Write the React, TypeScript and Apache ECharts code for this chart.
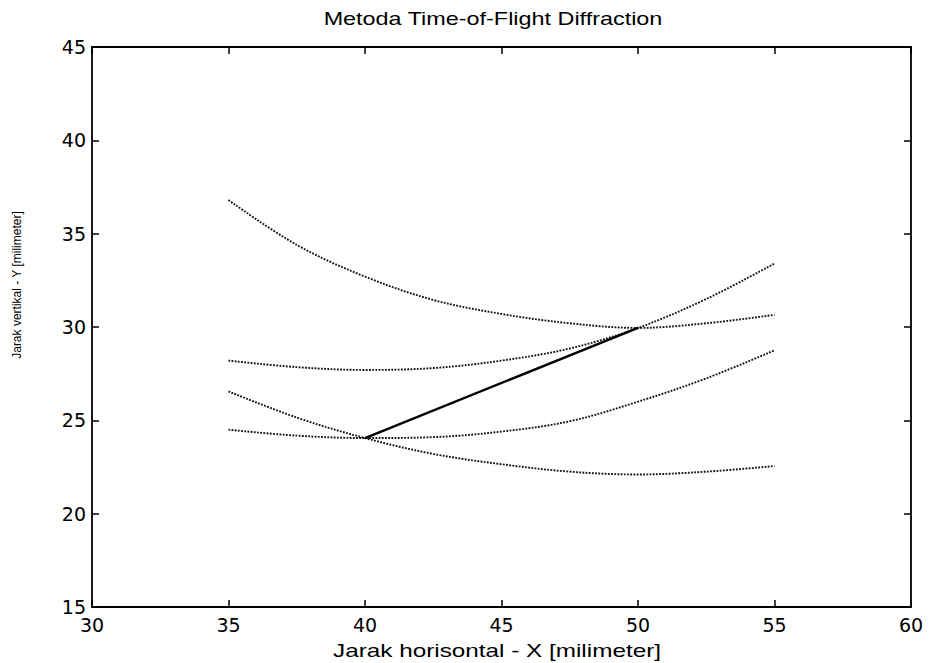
import React, { useEffect, useRef } from "react";
import * as echarts from "echarts";

const xs = [35, 37.5, 40, 42.5, 45, 47.5, 50, 52.5, 55];
const curveA = [36.8, 34.4, 32.7, 31.45, 30.7, 30.2, 29.95, 30.2, 30.65];
const curveB = [28.2, 27.85, 27.7, 27.8, 28.2, 28.85, 29.95, 31.5, 33.4];
const curveC = [26.55, 25.15, 24.05, 23.2, 22.65, 22.25, 22.1, 22.25, 22.55];
const curveD = [24.5, 24.18, 24.05, 24.1, 24.4, 24.95, 26.0, 27.25, 28.75];
const pathX = [40, 50];
const pathY = [24.05, 29.95];

const titleText = "Metoda Time-of-Flight Diffraction";
const xName = "Jarak horisontal - X [milimeter]";
const yName = "Jarak vertikal - Y [milimeter]";

const FONT = "Liberation Sans";
const TICKFONT = "DejaVu Sans";

export default function App() {
  const ref = useRef<HTMLDivElement>(null);
  useEffect(() => {
    document.body.style.margin = "0";
    const chart = echarts.init(ref.current!, null, { renderer: "svg" });
    const pairs = (ys: number[]) => xs.map((x, i) => [x, ys[i]]);
    const dotted = {
      color: "#111",
      width: 1.9,
      type: [1.8, 1.4] as any,
    };
    const curve = (name: string, ys: number[]) => ({
      name,
      type: "line",
      data: pairs(ys),
      smooth: 0.35,
      showSymbol: false,
      xAxisIndex: 0,
      yAxisIndex: 0,
      lineStyle: dotted,
      silent: true,
    });
    const axisLine = { show: true, lineStyle: { color: "#000", width: 1.8 } };
    const tick = { show: true, inside: true, length: 7, lineStyle: { color: "#000", width: 1.5 } };
    chart.setOption({
      animation: false,
      backgroundColor: "#fff",
      grid: { left: 92, right: 20, top: 47, bottom: 56, containLabel: false },
      xAxis: [
        {
          type: "value",
          min: 30,
          max: 60,
          interval: 5,
          position: "bottom",
          axisLine,
          axisTick: tick,
          splitLine: { show: false },
          axisLabel: { color: "#000", fontFamily: TICKFONT, fontSize: 19, margin: 8 },
        },
        {
          type: "value",
          min: 30,
          max: 60,
          interval: 5,
          position: "top",
          axisLine,
          axisTick: tick,
          splitLine: { show: false },
          axisLabel: { show: false },
        },
      ],
      yAxis: [
        {
          type: "value",
          min: 15,
          max: 45,
          interval: 5,
          position: "left",
          axisLine,
          axisTick: tick,
          splitLine: { show: false },
          axisLabel: { color: "#000", fontFamily: TICKFONT, fontSize: 19, margin: 6 },
        },
        {
          type: "value",
          min: 15,
          max: 45,
          interval: 5,
          position: "right",
          axisLine,
          axisTick: tick,
          splitLine: { show: false },
          axisLabel: { show: false },
        },
      ],
      graphic: [
        {
          type: "text",
          x: 493,
          y: 19,
          scaleX: 1.3,
          style: {
            text: titleText,
            fill: "#000",
            font: `18px '${FONT}'`,
            align: "center",
            verticalAlign: "middle",
          },
        },
        {
          type: "text",
          x: 497,
          y: 651,
          scaleX: 1.35,
          style: {
            text: xName,
            fill: "#000",
            font: `18px '${FONT}'`,
            align: "center",
            verticalAlign: "middle",
          },
        },
        {
          type: "text",
          x: 17,
          y: 285,
          rotation: Math.PI / 2,
          style: {
            text: yName,
            fill: "#000",
            font: `12px '${FONT}'`,
            align: "center",
            verticalAlign: "middle",
          },
        },
      ],
      series: [
        curve("A", curveA),
        curve("B", curveB),
        curve("C", curveC),
        curve("D", curveD),
        {
          name: "path",
          type: "line",
          data: pathX.map((x, i) => [x, pathY[i]]),
          showSymbol: false,
          lineStyle: { color: "#000", width: 2.4, type: "solid" },
          silent: true,
        },
      ],
    });
    return () => chart.dispose();
  }, []);
  return <div ref={ref} style={{ width: 931, height: 663 }} />;
}
